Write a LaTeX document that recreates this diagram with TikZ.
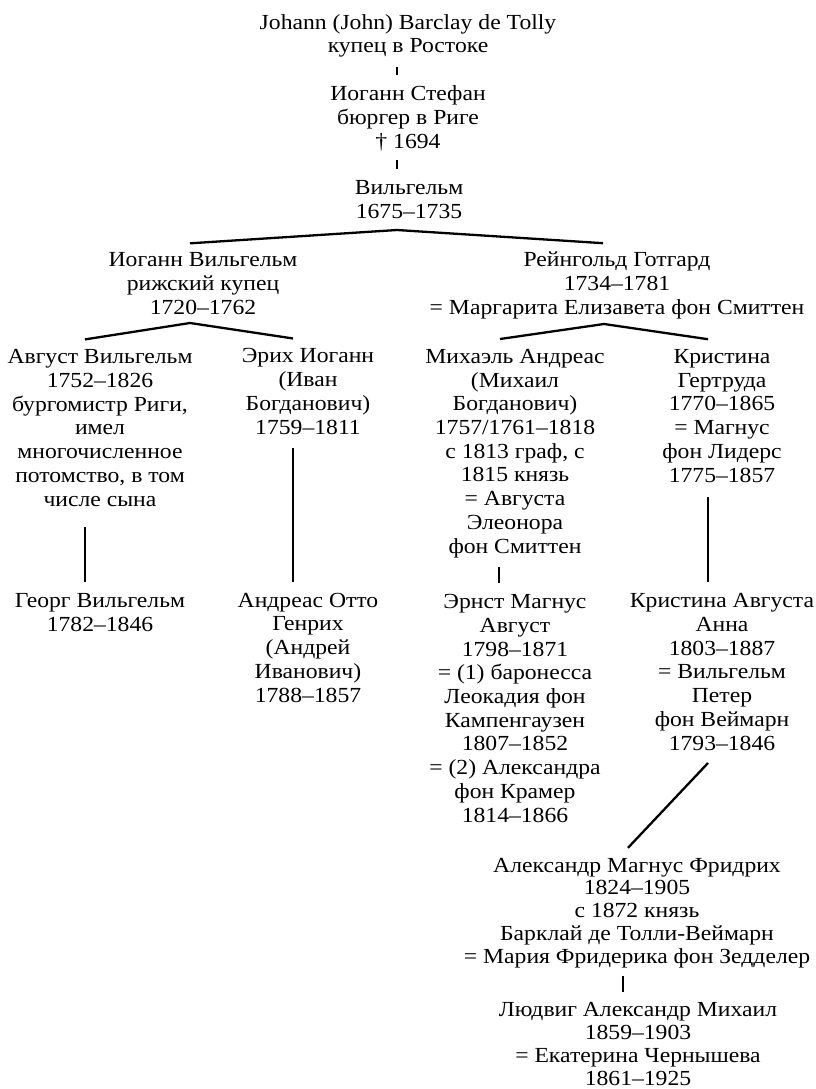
\documentclass[tikz,border=0pt]{standalone}
\usepackage{fontspec}
\setmainfont[FakeStretch=1.1]{Liberation Serif}
\begin{document}
\begin{tikzpicture}[x=1pt, y=-1pt,
  person/.style={anchor=base, align=center, inner sep=0pt, font=\fontsize{21.5}{23.7}\selectfont},
  tight/.style={font=\fontsize{21.5}{22.7}\selectfont},
  link/.style={line width=2.3pt}]

\useasboundingbox (0,0) rectangle (816,1089);

\node[person] (johann) at (408,53) {Johann (John) Barclay de Tolly\\купец в Ростоке};
\node[person] (stefan) at (408,148) {Иоганн Стефан\\бюргер в Риге\\† 1694};
\node[person] (vilgelm) at (409,218) {Вильгельм\\1675–1735};

\node[person] (iogannv) at (203,314) {Иоганн Вильгельм\\рижский купец\\1720–1762};
\node[person] (reingold) at (617,314) {Рейнгольд Готгард\\1734–1781\\= Маргарита Елизавета фон Смиттен};

\node[person] (avgust) at (100,506) {Август Вильгельм\\1752–1826\\бургомистр Риги,\\имел\\многочисленное\\потомство, в том\\числе сына};
\node[person] (erich) at (308,434) {Эрих Иоганн\\(Иван\\Богданович)\\1759–1811};
\node[person] (michael) at (515,553) {Михаэль Андреас\\(Михаил\\Богданович)\\1757/1761–1818\\с 1813 граф, с\\1815 князь\\= Августа\\Элеонора\\фон Смиттен};
\node[person] (kristina) at (722,482) {Кристина\\Гертруда\\1770–1865\\= Магнус\\фон Лидерс\\1775–1857};

\node[person] (georg) at (100,631) {Георг Вильгельм\\1782–1846};
\node[person] (andreas) at (308,702) {Андреас Отто\\Генрих\\(Андрей\\Иванович)\\1788–1857};
\node[person] (ernst) at (515,822) {Эрнст Магнус\\Август\\1798–1871\\= (1) баронесса\\Леокадия фон\\Кампенгаузен\\1807–1852\\= (2) Александра\\фон Крамер\\1814–1866};
\node[person] (kristinaa) at (722,750) {Кристина Августа\\Анна\\1803–1887\\= Вильгельм\\Петер\\фон Веймарн\\1793–1846};

\node[person, tight] (alexander) at (637,963) {Александр Магнус Фридрих\\1824–1905\\с 1872 князь\\Барклай де Толли-Веймарн\\= Мария Фридерика фон Зедделер};
\node[person, tight] (ludwig) at (638,1085) {Людвиг Александр Михаил\\1859–1903\\= Екатерина Чернышева\\1861–1925};

\coordinate (vilgelm-fork) at ([xshift=-12pt,yshift=-12pt]vilgelm.base);
\coordinate (iogannv-fork) at ([xshift=-13pt,yshift=-9pt]iogannv.base);
\coordinate (reingold-fork) at ([xshift=-13pt,yshift=-10pt]reingold.base);

\draw[link, shorten <=14pt, shorten >=10pt] ([xshift=-11pt]johann.base) -- ([xshift=-11pt]stefan.north);
\draw[link, shorten <=12pt, shorten >=11pt] ([xshift=-11pt]stefan.base) -- ([xshift=-12pt]vilgelm.north);

\draw[link] ([xshift=-13pt,yshift=9pt]iogannv.north) -- (vilgelm-fork) -- ([xshift=-14pt,yshift=8.5pt]reingold.north);
\draw[link] ([xshift=-15pt,yshift=10pt]avgust.north) -- (iogannv-fork) -- ([xshift=-15pt,yshift=10pt]erich.north);
\draw[link] ([xshift=-15pt,yshift=10pt]michael.north) -- (reingold-fork) -- ([xshift=-14pt,yshift=10pt]kristina.north);

\draw[link, shorten <=21pt, shorten >=11pt] ([xshift=-15pt]avgust.base) -- ([xshift=-15pt]georg.north);
\draw[link, shorten <=14pt, shorten >=11pt] ([xshift=-15pt]erich.base) -- ([xshift=-15pt]andreas.north);
\draw[link, shorten <=14pt, shorten >=11pt] ([xshift=-16pt]michael.base) -- ([xshift=-16pt]ernst.north);
\draw[link, shorten <=15pt, shorten >=11pt] ([xshift=-14pt]kristina.base) -- ([xshift=-14pt]kristinaa.north);

\draw[link] ([xshift=-14pt,yshift=-13pt]kristinaa.base) -- ([xshift=-9pt,yshift=10pt]alexander.north);
\draw[link, shorten <=13pt, shorten >=11pt] ([xshift=-14pt]alexander.base) -- ([xshift=-15pt]ludwig.north);

\end{tikzpicture}
\end{document}
